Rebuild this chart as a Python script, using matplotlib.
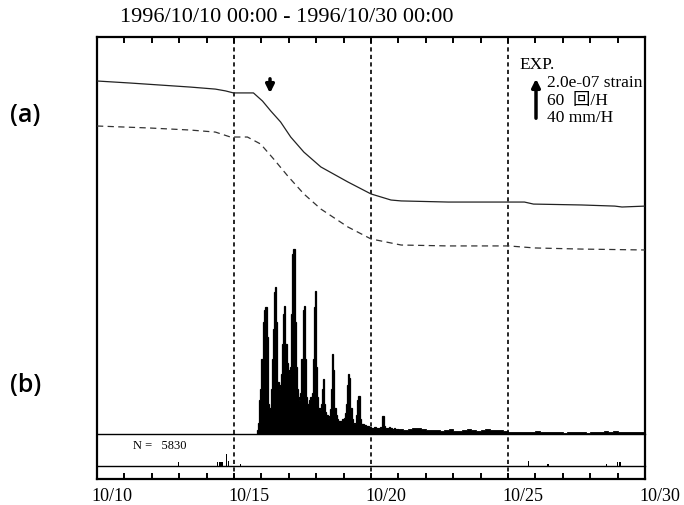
import numpy as np
import matplotlib
matplotlib.use('Agg')
import matplotlib.pyplot as plt
import matplotlib.patches as mpatches
import matplotlib.transforms as mtransforms

plt.rcParams['font.family'] = ['Liberation Serif', 'Noto Sans CJK JP']

# ---- data ----
title = '1996/10/10 00:00 - 1996/10/30 00:00'
tick_days = [0, 5, 10, 15, 20]
tick_labels = ['10/10', '10/15', '10/20', '10/25', '10/30']
event_days = [5, 10, 15]

# strain curves (days since 10/10, strain in 1e-7)
strain_days = [0.00, 1.21, 2.31, 3.41, 4.32, 4.69, 4.98, 5.71, 6.04, 6.34, 6.70, 7.07,
               7.55, 8.17, 9.16, 10.00, 10.73, 11.10, 12.82, 15.02, 15.60, 15.93,
               17.69, 18.90, 19.16, 20.00]
strain_a = [0.00, -0.09, -0.18, -0.27, -0.36, -0.44, -0.53, -0.53, -0.89, -1.33, -1.82,
            -2.49, -3.16, -3.82, -4.49, -5.02, -5.29, -5.33, -5.38, -5.38, -5.38, -5.47,
            -5.51, -5.56, -5.60, -5.56]
strain2_days = [0.00, 1.94, 3.41, 4.32, 4.87, 5.49, 5.97, 6.45, 6.96, 7.55, 8.17, 9.16,
                10.00, 11.10, 12.82, 15.02, 15.97, 17.69, 20.00]
strain_b = [-2.00, -2.09, -2.18, -2.27, -2.49, -2.49, -2.80, -3.47, -4.22, -5.02, -5.69,
            -6.49, -7.02, -7.29, -7.33, -7.33, -7.42, -7.47, -7.51]

# hourly earthquake counts from hour 140 (10/15 20:00)
hourly_start = 140
hourly_counts = [5, 15, 45, 60, 100, 150, 165, 170, 170, 130,
                 40, 35, 60, 100, 140, 190, 196, 150, 70, 60,
                 65, 80, 120, 160, 171, 120, 95, 85, 80, 90,
                 160, 240, 247, 150, 90, 60, 50, 45, 55, 100,
                 165, 171, 100, 50, 40, 40, 45, 50, 55, 100,
                 170, 191, 90, 50, 35, 32, 40, 60, 73, 40,
                 30, 25, 22, 24, 33, 60, 107, 85, 35, 25,
                 20, 18, 17, 18, 18, 20, 22, 28, 40, 65,
                 80, 75, 35, 20, 15, 13, 15, 25, 45, 51,
                 20, 14, 13, 13, 12, 12, 11, 11, 10, 10,
                 8, 7, 8, 9, 7, 8, 7, 8, 9, 7, 24, 11,
                 8, 7, 8, 7, 9, 8, 7, 5, 8, 7, 5, 7]
# 4-hour averaged counts per hour from hour 264
tail_start = 264
tail_counts = [7, 5, 7, 8, 8, 7, 5, 5, 5, 4, 5, 7, 4, 4, 5, 7, 5, 4, 5, 7, 5, 5, 5, 4,
               3, 3, 3, 3, 3, 3, 4, 3, 3, 3, 3, 3, 1, 3, 3, 3, 3, 1, 3, 3, 3, 4, 3, 4,
               3, 3, 3, 3, 3, 3]
n_total = 5830

# rainfall (mm/H)
rain_days = [2.97, 4.40, 4.48, 4.56, 4.72, 4.80, 5.24, 15.75, 16.45, 18.60, 19.00, 19.08]
rain_mm = [3.5, 3.0, 3.5, 3.5, 10.0, 4.5, 1.8, 4.5, 1.8, 1.8, 3.0, 3.5]

# ---- figure ----
W, H = 684, 506
fig = plt.figure(figsize=(W / 100, H / 100), dpi=100)

def fx(px):
    return px / W

def fy(py):
    return 1 - py / H

L, R, T, B = 97, 645, 38, 480
base_b, base_c = 435, 466.7

ax = fig.add_axes([fx(L), fy(B), fx(R - L), (B - T) / H])
ax.set_xlim(0, 20)
ax.set_ylim(0, 1)
ax.set_yticks([])
for s in ax.spines.values():
    s.set_linewidth(1.6)
ax.set_xticks(tick_days)
ax.set_xticklabels(tick_labels, fontsize=13)
ax.set_xticks(np.arange(0, 21, 1), minor=True)
ax.tick_params(axis='x', which='both', direction='in', top=True, bottom=True,
               length=4, width=1.4, pad=6)
offset = mtransforms.ScaledTranslation(-4 / 72, 0, fig.dpi_scale_trans)
for lab in ax.get_xticklabels():
    lab.set_ha('left')
    lab.set_transform(lab.get_transform() + offset)
for d in event_days:
    ax.axvline(d, color='black', lw=1.2, ls=(0, (2.5, 2)))

# strain panel (a)
ax_a = fig.add_axes([fx(L), fy(B), fx(R - L), (B - T) / H], sharex=ax)
ax_a.patch.set_visible(False)
ax_a.axis('off')
ax_a.set_ylim((82 - B) / 22.5, (82 - T) / 22.5)
ax_a.plot(strain_days, strain_a, color='#222222', lw=0.9)
ax_a.plot(strain2_days, strain_b, color='#333333', lw=0.9, ls=(0, (5, 3.5)))

# earthquake counts panel (b)
ax_b = fig.add_axes([fx(L), fy(base_b), fx(R - L), (base_b - T) / H], sharex=ax)
ax_b.patch.set_visible(False)
ax_b.set_ylim(0, (base_b - T) * 60 / 45)
ax_b.set_yticks([])
ax_b.tick_params(axis='x', which='both', bottom=False, labelbottom=False)
for k in ['top', 'left', 'right']:
    ax_b.spines[k].set_visible(False)
ax_b.spines['bottom'].set_linewidth(1.0)
edges_h = (hourly_start + np.arange(len(hourly_counts) + 1)) / 24
ax_b.stairs(hourly_counts, edges_h, fill=True, facecolor='black',
            edgecolor='black', lw=0.9)
edges_t = (tail_start + 4 * np.arange(len(tail_counts) + 1)) / 24
ax_b.stairs(tail_counts, edges_t, fill=True, facecolor='black',
            edgecolor='black', lw=0.6)

# rainfall panel
ax_c = fig.add_axes([fx(L), fy(base_c), fx(R - L), (base_c - base_b) / H], sharex=ax)
ax_c.patch.set_visible(False)
ax_c.set_ylim(0, (base_c - base_b) * 40 / 45)
ax_c.set_yticks([])
ax_c.tick_params(axis='x', which='both', bottom=False, labelbottom=False)
for k in ['top', 'left', 'right']:
    ax_c.spines[k].set_visible(False)
ax_c.spines['bottom'].set_linewidth(1.0)
ax_c.bar(rain_days, rain_mm, width=0.06, color='black', linewidth=0)
ax_c.set_xlim(0, 20)

# texts
fig.text(fx(120), fy(18), title, fontsize=16, va='center', ha='left')
fig.text(fx(10), fy(116), '(a)', fontsize=18, family='Open Sans', weight='semibold', va='center')
fig.text(fx(10), fy(385), '(b)', fontsize=18, family='Open Sans', weight='semibold', va='center')
fig.text(fx(133), fy(446), f'N =   {n_total}', fontsize=9, va='center')

fig.text(fx(519), fy(65), 'EXP.', fontsize=12.5, va='center')
fig.text(fx(547), fy(83), '2.0e-07 strain', fontsize=12.5, va='center')
fig.text(fx(547), fy(101), '60  回/H', fontsize=12.5, va='center')
fig.text(fx(547), fy(118), '40 mm/H', fontsize=12.5, va='center')
fig.patches.append(mpatches.FancyArrowPatch(
    (536, H - 122), (536, H - 77), transform=None, arrowstyle='-|>',
    mutation_scale=12, lw=2.5, color='black'))
fig.patches.append(mpatches.FancyArrowPatch(
    (270, H - 77), (270, H - 97), transform=None, arrowstyle='-|>',
    mutation_scale=12, lw=2.5, color='black'))

fig.savefig('out.png', dpi=100)
